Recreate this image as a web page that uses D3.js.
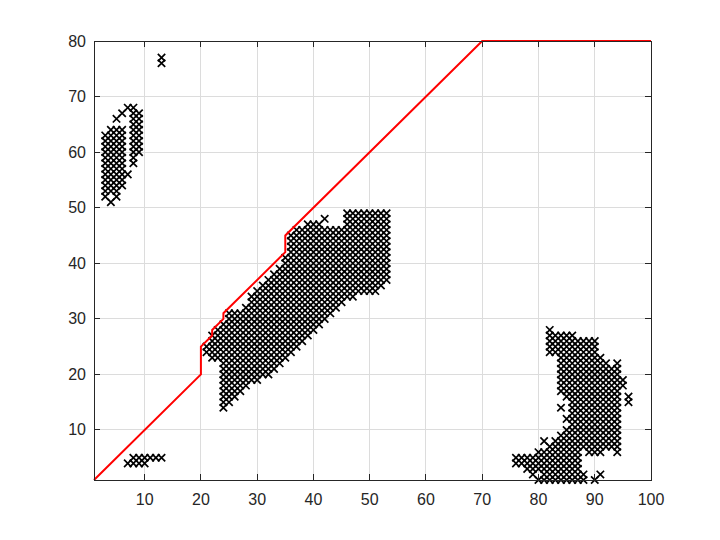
<!DOCTYPE html>
<html><head><meta charset="utf-8">
<script src="https://cdn.jsdelivr.net/npm/d3@7"></script>
<style>html,body{margin:0;background:#fff}svg{display:block}</style></head>
<body><svg id="c" width="720" height="540"></svg>
<script>
// Each entry: column x, then inclusive y ranges [lo, hi] of marked cells in that column.
const blobLeft = [[3,[52,63]],[4,[51,51],[53,64]],[5,[52,64],[66,66]],[6,[54,64],[67,67]],[7,[56,56],[68,68]],[8,[58,68]],[9,[60,67]]];
const blobTop = [[13,[76,77]]];
const blobBottom = [[7,[4,4]],[8,[4,5]],[9,[4,5]],[10,[4,5]],[11,[5,5]],[12,[5,5]],[13,[5,5]]];
const blobMain = [[21,[24,25]],[22,[23,27]],[23,[23,28]],[24,[14,29]],[25,[15,31]],[26,[16,31]],[27,[17,31]],[28,[18,32]],[29,[19,34]],[30,[19,35]],
 [31,[20,36]],[32,[20,37]],[33,[21,38]],[34,[22,39]],[35,[23,41]],[36,[24,45]],[37,[25,46]],[38,[26,46]],[39,[27,47]],[40,[28,47]],[41,[29,47]],[42,[30,46],[48,48]],
 [43,[31,46]],[44,[32,46]],[45,[33,46]],[46,[34,49]],[47,[34,49]],[48,[35,49]],[49,[35,49]],[50,[35,49]],[51,[35,49]],[52,[36,49]],[53,[37,49]]];
const blobRight = [[76,[4,5]],[77,[4,5]],[78,[3,5]],[79,[2,5]],[80,[1,1],[3,6]],[81,[1,6],[8,8]],[82,[1,7],[24,28]],[83,[1,8],[24,27]],[84,[1,9],[14,14],[17,27]],
 [85,[1,10],[12,12],[16,27]],[86,[1,27]],[87,[1,26]],[88,[1,2],[7,26]],[89,[6,26]],[90,[1,1],[6,26]],[91,[2,2],[6,23]],[92,[7,22]],[93,[7,21]],[94,[6,22]],[95,[18,19]],[96,[15,16]]];
const boundaryX = [1,20,20,22,22,24,24,35,35,70,100];
const boundaryY = [1,20,25,27,28,30,31,42,45,80,80];
const xTicks = [10,20,30,40,50,60,70,80,90,100];
const yTicks = [10,20,30,40,50,60,70,80];

const L=94,R=651,T=41,B=480;
const ink='#262626', gridC='#dcdcdc', red='#ff0000';
const x=d3.scaleLinear().domain([1,100]).range([L,R]);
const y=d3.scaleLinear().domain([1,80]).range([B,T]);
const svg=d3.select('#c');
const font='"Liberation Sans",Arial,sans-serif';

const g=svg.append('g').attr('shape-rendering','crispEdges');
g.selectAll('.gx').data(xTicks).join('line').attr('x1',d=>x(d)).attr('x2',d=>x(d)).attr('y1',T).attr('y2',B).attr('stroke',gridC);
g.selectAll('.gy').data(yTicks).join('line').attr('y1',d=>y(d)).attr('y2',d=>y(d)).attr('x1',L).attr('x2',R).attr('stroke',gridC);

const pts=[];
[blobLeft,blobTop,blobBottom,blobMain,blobRight].forEach(b=>b.forEach(([cx,...runs])=>runs.forEach(([lo,hi])=>{for(let v=lo;v<=hi;v++)pts.push([cx,v]);})));
svg.append('g').selectAll('path').data(pts).join('path')
 .attr('d','M-3.7,-3.7L3.7,3.7M-3.7,3.7L3.7,-3.7').attr('transform',d=>`translate(${x(d[0])},${y(d[1])})`)
 .attr('fill','none').attr('stroke','#000').attr('stroke-width',1.7);

const line=d3.line().x(d=>x(d[0])).y(d=>y(d[1]));
svg.append('path').datum(boundaryX.map((v,i)=>[v,boundaryY[i]])).attr('d',line).attr('fill','none').attr('stroke',red).attr('stroke-width',2);

const ax=svg.append('g').attr('shape-rendering','crispEdges').attr('stroke',ink);
ax.append('rect').attr('x',L).attr('y',T).attr('width',R-L).attr('height',B-T).attr('fill','none');
ax.selectAll('.tb').data(xTicks).join('path').attr('d',d=>`M${x(d)},${B}v-6M${x(d)},${T}v6`);
ax.selectAll('.tl').data(yTicks).join('path').attr('d',d=>`M${L},${y(d)}h6M${R},${y(d)}h-6`);

svg.append('g').selectAll('text').data(xTicks).join('text').attr('x',d=>x(d)).attr('y',505).attr('text-anchor','middle')
 .attr('font-family',font).attr('font-size',16).attr('fill',ink).text(d=>d);
svg.append('g').selectAll('text').data(yTicks).join('text').attr('x',86).attr('y',d=>y(d)+5.5).attr('text-anchor','end')
 .attr('font-family',font).attr('font-size',16).attr('fill',ink).text(d=>d);
</script></body></html>
